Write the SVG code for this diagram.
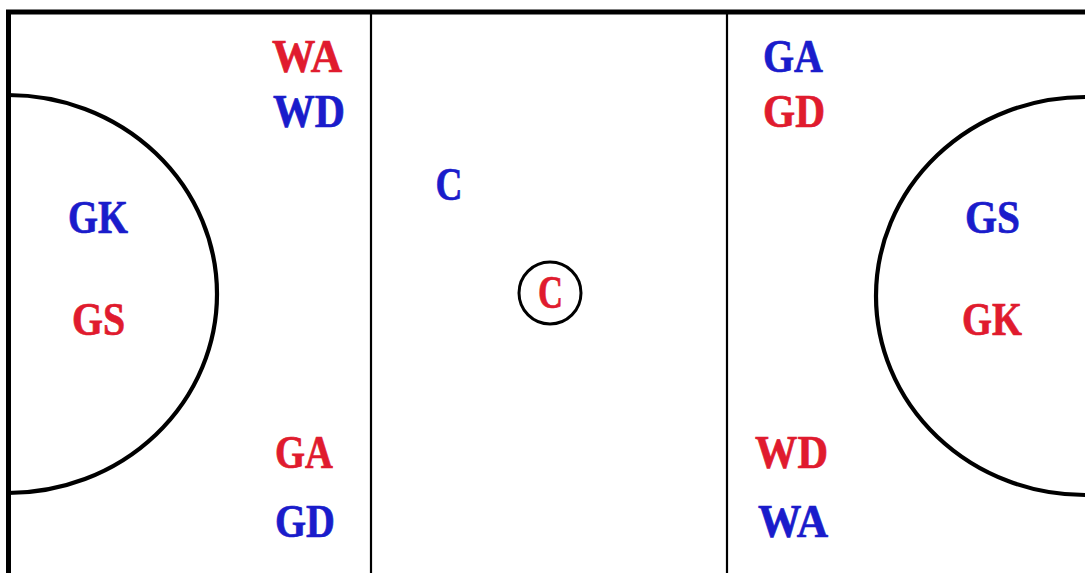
<svg xmlns="http://www.w3.org/2000/svg" width="1085" height="573" viewBox="0 0 1085 573">
<style>
.line{fill:none;stroke:#000}
.lbl{font-family:"Liberation Serif","Times New Roman",serif;font-weight:bold;font-size:47px;text-anchor:middle;stroke-width:0.7}
.red{fill:#e01b2e;stroke:#e01b2e}
.blue{fill:#1a1ccb;stroke:#1a1ccb}
</style>
<rect x="0" y="0" width="1085" height="573" fill="#ffffff"/>
<g id="court">
<path class="line" d="M8.5,573 V12 H1085" stroke-width="5"/>
<line class="line" x1="371" y1="12" x2="371" y2="573" stroke-width="2.2"/>
<line class="line" x1="727" y1="12" x2="727" y2="573" stroke-width="2.2"/>
<path class="line" d="M8,95 A209,199 0 0 1 8,493" stroke-width="4.2"/>
<path class="line" d="M1085,97 A209,199 0 0 0 1085,495" stroke-width="4.2"/>
<circle class="line" cx="550" cy="293" r="31" stroke-width="3"/>
</g>
<g id="labels">
<text class="lbl red" x="307" y="72" textLength="70" lengthAdjust="spacingAndGlyphs">WA</text>
<text class="lbl blue" x="309" y="127" textLength="72" lengthAdjust="spacingAndGlyphs">WD</text>
<text class="lbl blue" x="98" y="233" textLength="60" lengthAdjust="spacingAndGlyphs">GK</text>
<text class="lbl red" x="98.5" y="335" textLength="53" lengthAdjust="spacingAndGlyphs">GS</text>
<text class="lbl red" x="304" y="468" textLength="58" lengthAdjust="spacingAndGlyphs">GA</text>
<text class="lbl blue" x="305" y="537" textLength="60" lengthAdjust="spacingAndGlyphs">GD</text>
<text class="lbl blue" x="449" y="200" textLength="27" lengthAdjust="spacingAndGlyphs">C</text>
<text class="lbl red" x="550.5" y="308" font-size="42" textLength="25" lengthAdjust="spacingAndGlyphs">C</text>
<text class="lbl blue" x="793" y="72" textLength="60" lengthAdjust="spacingAndGlyphs">GA</text>
<text class="lbl red" x="794" y="127" textLength="62" lengthAdjust="spacingAndGlyphs">GD</text>
<text class="lbl red" x="791.5" y="468" textLength="73" lengthAdjust="spacingAndGlyphs">WD</text>
<text class="lbl blue" x="793" y="537" textLength="70" lengthAdjust="spacingAndGlyphs">WA</text>
<text class="lbl blue" x="992.5" y="233" textLength="55" lengthAdjust="spacingAndGlyphs">GS</text>
<text class="lbl red" x="992" y="335" textLength="60" lengthAdjust="spacingAndGlyphs">GK</text>
</g>
</svg>
